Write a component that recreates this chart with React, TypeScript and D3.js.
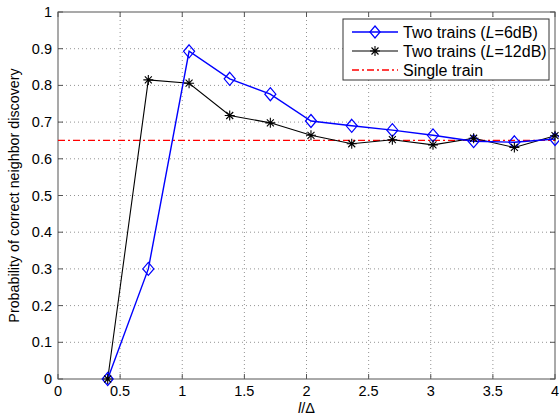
import React, { useEffect, useRef } from 'react';
import * as d3 from 'd3';

// chart data
const ratios = [0.4, 0.727, 1.055, 1.382, 1.709, 2.036, 2.364, 2.691, 3.018, 3.345, 3.673, 4.0];
const twoTrains6dB = [0.0, 0.30, 0.893, 0.818, 0.776, 0.703, 0.690, 0.678, 0.664, 0.648, 0.645, 0.654];
const twoTrains12dB = [0.0, 0.815, 0.806, 0.718, 0.698, 0.664, 0.641, 0.652, 0.638, 0.656, 0.631, 0.663];
const singleTrain = 0.65;
const xTicks = [0, 0.5, 1, 1.5, 2, 2.5, 3, 3.5, 4];
const yTicks = [0, 0.1, 0.2, 0.3, 0.4, 0.5, 0.6, 0.7, 0.8, 0.9, 1];

const App = () => {
  const ref = useRef<SVGSVGElement>(null);

  useEffect(() => {
    const width = 559;
    const height = 418;
    const margin = { top: 12, right: 4, bottom: 39, left: 58 };
    const w = width - margin.left - margin.right;
    const h = height - margin.top - margin.bottom;
    const font = 'Liberation Sans, Arial, Helvetica, sans-serif';

    const root = d3.select(ref.current);
    root.selectAll('*').remove();

    const svg = root.append('g')
      .attr('transform', 'translate(' + margin.left + ',' + margin.top + ')');

    const x = d3.scaleLinear().domain([0, 4]).range([0, w]);
    const y = d3.scaleLinear().domain([0, 1]).range([h, 0]);

    // background
    svg.append('rect').attr('width', w).attr('height', h).attr('fill', '#fff');

    // dotted grid
    svg.append('g').selectAll('line').data(xTicks.slice(1, -1)).enter().append('line')
      .attr('x1', d => x(d)).attr('x2', d => x(d)).attr('y1', 0).attr('y2', h)
      .attr('stroke', '#777').attr('stroke-width', 0.8).attr('stroke-dasharray', '1,3');
    svg.append('g').selectAll('line').data(yTicks.slice(1, -1)).enter().append('line')
      .attr('x1', 0).attr('x2', w).attr('y1', d => y(d)).attr('y2', d => y(d))
      .attr('stroke', '#777').attr('stroke-width', 0.8).attr('stroke-dasharray', '1,3');

    // box + inward ticks (matlab style)
    svg.append('rect').attr('width', w).attr('height', h)
      .attr('fill', 'none').attr('stroke', '#555').attr('stroke-width', 1);
    const tk = 5;
    const ticks = svg.append('g').attr('stroke', '#555').attr('stroke-width', 1);
    xTicks.forEach(t => {
      ticks.append('line').attr('x1', x(t)).attr('x2', x(t)).attr('y1', h).attr('y2', h - tk);
      ticks.append('line').attr('x1', x(t)).attr('x2', x(t)).attr('y1', 0).attr('y2', tk);
    });
    yTicks.forEach(t => {
      ticks.append('line').attr('x1', 0).attr('x2', tk).attr('y1', y(t)).attr('y2', y(t));
      ticks.append('line').attr('x1', w).attr('x2', w - tk).attr('y1', y(t)).attr('y2', y(t));
    });

    // tick labels
    svg.append('g').selectAll('text').data(xTicks).enter().append('text')
      .attr('x', d => x(d)).attr('y', h + 17).attr('text-anchor', 'middle')
      .attr('font-family', font).attr('font-size', 14.5).text(d => String(d));
    svg.append('g').selectAll('text').data(yTicks).enter().append('text')
      .attr('x', -6).attr('y', d => y(d) + 5).attr('text-anchor', 'end')
      .attr('font-family', font).attr('font-size', 14.5).text(d => String(d));

    // axis labels
    const xl = svg.append('text').attr('x', w / 2).attr('y', h + 34).attr('text-anchor', 'middle')
      .attr('font-family', font).attr('font-size', 14.5);
    xl.append('tspan').attr('font-style', 'italic').text('l');
    xl.append('tspan').text('/Δ');
    svg.append('text')
      .attr('transform', 'translate(' + (-39) + ',' + (h / 2) + ') rotate(-90)')
      .attr('text-anchor', 'middle').attr('font-family', font).attr('font-size', 14.3)
      .text('Probability of correct neighbor discovery');

    // single train reference line
    svg.append('line').attr('x1', x(0)).attr('x2', x(4))
      .attr('y1', y(singleTrain)).attr('y2', y(singleTrain))
      .attr('stroke', '#ff0000').attr('stroke-width', 1.3).attr('stroke-dasharray', '7,3,2,3');

    const line = d3.line<number>().x((d, i) => x(ratios[i])).y(d => y(d));

    // L=12dB series
    svg.append('path').datum(twoTrains12dB).attr('d', line)
      .attr('fill', 'none').attr('stroke', '#000').attr('stroke-width', 1.1);
    // L=6dB series
    svg.append('path').datum(twoTrains6dB).attr('d', line)
      .attr('fill', 'none').attr('stroke', '#0000ff').attr('stroke-width', 1.4);

    const star = (g: any, cx: number, cy: number, r: number) => {
      const p = 'M' + (cx - r) + ',' + cy + 'H' + (cx + r) +
        'M' + cx + ',' + (cy - r) + 'V' + (cy + r) +
        'M' + (cx - r * 0.7) + ',' + (cy - r * 0.7) + 'L' + (cx + r * 0.7) + ',' + (cy + r * 0.7) +
        'M' + (cx - r * 0.7) + ',' + (cy + r * 0.7) + 'L' + (cx + r * 0.7) + ',' + (cy - r * 0.7);
      g.append('path').attr('d', p).attr('stroke', '#000').attr('stroke-width', 1.1).attr('fill', 'none');
    };
    const diamond = (g: any, cx: number, cy: number, r: number) => {
      g.append('path')
        .attr('d', 'M' + cx + ',' + (cy - r) + 'L' + (cx + r * 0.85) + ',' + cy +
          'L' + cx + ',' + (cy + r) + 'L' + (cx - r * 0.85) + ',' + cy + 'Z')
        .attr('fill', 'none').attr('stroke', '#0000ff').attr('stroke-width', 1.2);
    };

    const markers = svg.append('g');
    twoTrains6dB.forEach((v, i) => diamond(markers, x(ratios[i]), y(v), 6.5));
    twoTrains12dB.forEach((v, i) => star(markers, x(ratios[i]), y(v), 5));

    // legend
    const lg = svg.append('g').attr('transform', 'translate(' + (343 - margin.left) + ',' + (19 - margin.top) + ')');
    lg.append('rect').attr('width', 206).attr('height', 61)
      .attr('fill', '#fff').attr('stroke', '#333').attr('stroke-width', 1);
    const rows = [13, 32, 51];
    lg.append('line').attr('x1', 9).attr('x2', 55).attr('y1', rows[0]).attr('y2', rows[0])
      .attr('stroke', '#0000ff').attr('stroke-width', 1.4);
    diamond(lg, 32, rows[0], 6);
    lg.append('line').attr('x1', 9).attr('x2', 55).attr('y1', rows[1]).attr('y2', rows[1])
      .attr('stroke', '#000').attr('stroke-width', 1.1);
    star(lg, 32, rows[1], 5);
    lg.append('line').attr('x1', 9).attr('x2', 55).attr('y1', rows[2]).attr('y2', rows[2])
      .attr('stroke', '#ff0000').attr('stroke-width', 1.3).attr('stroke-dasharray', '7,3,2,3');

    const labels = [['Two trains (', '=6dB)'], ['Two trains (', '=12dB)']];
    labels.forEach((l, i) => {
      const t = lg.append('text').attr('x', 60).attr('y', rows[i] + 5.5)
        .attr('font-family', font).attr('font-size', 16);
      t.append('tspan').text(l[0]);
      t.append('tspan').attr('font-style', 'italic').text('L');
      t.append('tspan').text(l[1]);
    });
    lg.append('text').attr('x', 60).attr('y', rows[2] + 5.5)
      .attr('font-family', font).attr('font-size', 16).text('Single train');
  }, []);

  return (
    <svg ref={ref} width={559} height={418} style={{ position: 'absolute', left: 0, top: 0, background: '#fff' }} />
  );
};

export default App;
